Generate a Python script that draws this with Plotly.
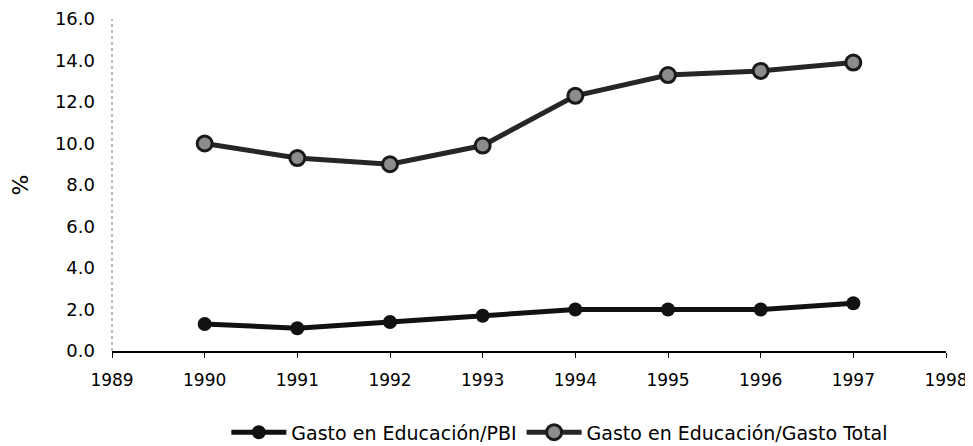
import plotly.graph_objects as go

años = [1990, 1991, 1992, 1993, 1994, 1995, 1996, 1997]
gasto_pbi = [1.3, 1.1, 1.4, 1.7, 2.0, 2.0, 2.0, 2.3]
gasto_total = [10.0, 9.3, 9.0, 9.9, 12.3, 13.3, 13.5, 13.9]

fig = go.Figure()
fig.add_trace(go.Scatter(
    x=años, y=gasto_pbi, mode='lines+markers',
    name='Gasto en Educación/PBI',
    line=dict(color='#111111', width=5),
    marker=dict(size=14, color='#111111')
))
fig.add_trace(go.Scatter(
    x=años, y=gasto_total, mode='lines+markers',
    name='Gasto en Educación/Gasto Total',
    line=dict(color='#262626', width=5),
    marker=dict(size=15, color='#8c8c8c', line=dict(color='#1a1a1a', width=3))
))

# eje vertical punteado
fig.add_shape(type='line', xref='paper', yref='paper', x0=0, x1=0, y0=0, y1=1,
              line=dict(color='#777777', width=1, dash='dot'))

# la página tiene 8px de margen en el body, así que la figura es algo más chica
fig.update_layout(
    width=965, height=438,
    margin=dict(l=104, r=27, t=11, b=95, autoexpand=False),
    plot_bgcolor='white', paper_bgcolor='white',
    font=dict(family='DejaVu Sans, Arial, sans-serif', size=18, color='black'),
    showlegend=True,
    legend=dict(orientation='h', x=0.537, xanchor='center', y=-0.245, yanchor='middle',
                font=dict(size=19), itemwidth=55, tracegroupgap=0),
)
fig.update_xaxes(
    range=[1989, 1998], dtick=1, tick0=1989, automargin=False,
    showline=True, linecolor='black', linewidth=1.5,
    ticks='outside', ticklen=5, tickcolor='black',
    showgrid=False, zeroline=False, ticklabelstandoff=8,
    ticklabeloverflow='allow', tickfont=dict(size=17)
)
fig.update_yaxes(
    range=[0, 16], dtick=2, tickformat='.1f', automargin=False,
    showline=False, showgrid=False, zeroline=False,
    ticks='', ticklabelstandoff=16, ticklabeloverflow='allow',
    title=dict(text='%', standoff=28)
)

fig.write_html('out.html')
